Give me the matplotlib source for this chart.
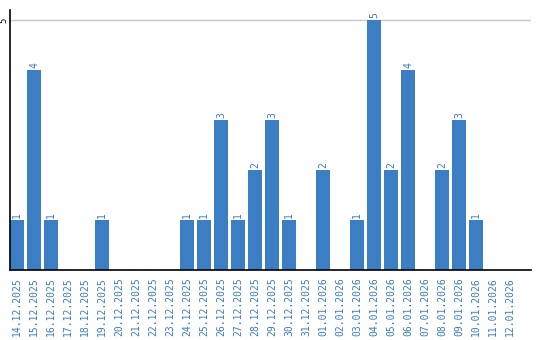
import matplotlib
matplotlib.use("Agg")
import matplotlib.pyplot as plt

dates = ["14.12.2025", "15.12.2025", "16.12.2025", "17.12.2025", "18.12.2025",
         "19.12.2025", "20.12.2025", "21.12.2025", "22.12.2025", "23.12.2025",
         "24.12.2025", "25.12.2025", "26.12.2025", "27.12.2025", "28.12.2025",
         "29.12.2025", "30.12.2025", "31.12.2025", "01.01.2026", "02.01.2026",
         "03.01.2026", "04.01.2026", "05.01.2026", "06.01.2026", "07.01.2026",
         "08.01.2026", "09.01.2026", "10.01.2026", "11.01.2026", "12.01.2026"]
counts = [1, 4, 1, 0, 0, 1, 0, 0, 0, 0,
          1, 1, 3, 1, 2, 3, 1, 0, 2, 0,
          1, 5, 2, 4, 0, 2, 3, 1, 0, 0]

bar_color = "#3b7ec4"
label_color = "#3a7cc2"
mono = "DejaVu Sans Mono"

fig = plt.figure(figsize=(5.4, 3.4), dpi=100)
ax = fig.add_axes([10 / 540, 70 / 340, 521 / 540, 260 / 340])

width = 14 / 17
xs = list(range(len(counts)))
ax.bar(xs, counts, width=width, align="edge", color=bar_color, zorder=2)

# value labels above the non-empty bars
for x, v in zip(xs, counts):
    if v > 0:
        ax.text(x + width / 2, v + 0.04, str(v), rotation=90, ha="center", va="bottom",
                fontsize=7, color=label_color, family=mono, clip_on=False)

ax.set_xlim(0, 521 / 17)
ax.set_ylim(0, 5.2)

ax.set_xticks([x + width / 2 for x in xs])
ax.set_xticklabels(dates, rotation=90, fontsize=7, color=label_color, family=mono)
ax.set_yticks([5])
ax.set_yticklabels(["5"], rotation=90, fontsize=6.5, family=mono, va="center")
ax.tick_params(axis="both", length=0)
ax.tick_params(axis="y", pad=1)
ax.tick_params(axis="x", pad=5)

ax.axhline(5, color="#c8c8c8", linewidth=1, zorder=1)

for side in ("top", "right"):
    ax.spines[side].set_visible(False)
for side in ("left", "bottom"):
    ax.spines[side].set_color("black")
    ax.spines[side].set_linewidth(1.2)

fig.savefig("out.png", dpi=100)
